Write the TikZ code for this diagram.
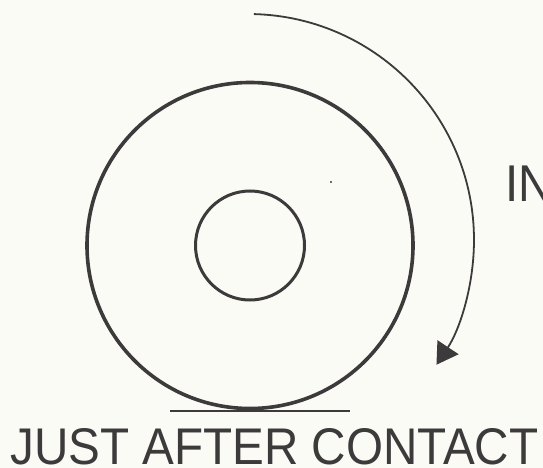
\documentclass[tikz,border=0pt]{standalone}
\usepackage{fontspec}
\setmainfont{Liberation Sans}
\usetikzlibrary{arrows.meta,calc}
\definecolor{ink}{HTML}{3C3A3A}
\definecolor{paper}{HTML}{FBFBF6}
\begin{document}
\begin{tikzpicture}[x=1pt,y=-1pt,
  wheel/.style={draw=ink,line width=3.6pt},
  hub/.style={draw=ink,line width=3pt},
  rotarrow/.style={draw=ink,line width=1.8pt,-{Triangle[length=21pt,width=25pt]}},
  ground/.style={draw=ink,line width=2pt},
  lbl/.style={inner sep=0pt,text=ink,font=\fontsize{51.7}{52}\selectfont}]
\fill[paper] (0,0) rectangle (543,468);
\useasboundingbox (0,0) rectangle (543,468);
\coordinate (c) at (250,245.5);
\node[wheel,circle,minimum size=326pt,inner sep=0pt] (outer) at (c) {};
\node[hub,circle,minimum size=109pt,inner sep=0pt] (inner) at (c) {};
\coordinate (gl) at (170,411);
\coordinate (gr) at (350,411);
\draw[ground] (gl) -- (gr);
\coordinate (arcstart) at ($(248,240)+(-88.5:226)$);
\draw[rotarrow] (arcstart) arc[start angle=-88.5,end angle=33.5,radius=226];
\fill[ink] (331,182) circle (1.1pt);
\node[lbl,anchor=base west] (title) at (10,464) {\resizebox{528pt}{36pt}{JUST AFTER CONTACT}};
\begin{scope}
\clip (0,0) rectangle (543,468);
\node[lbl,anchor=base west] (in) at (505,201) {\scalebox{0.92}[1]{IN}};
\end{scope}
\end{tikzpicture}
\end{document}
